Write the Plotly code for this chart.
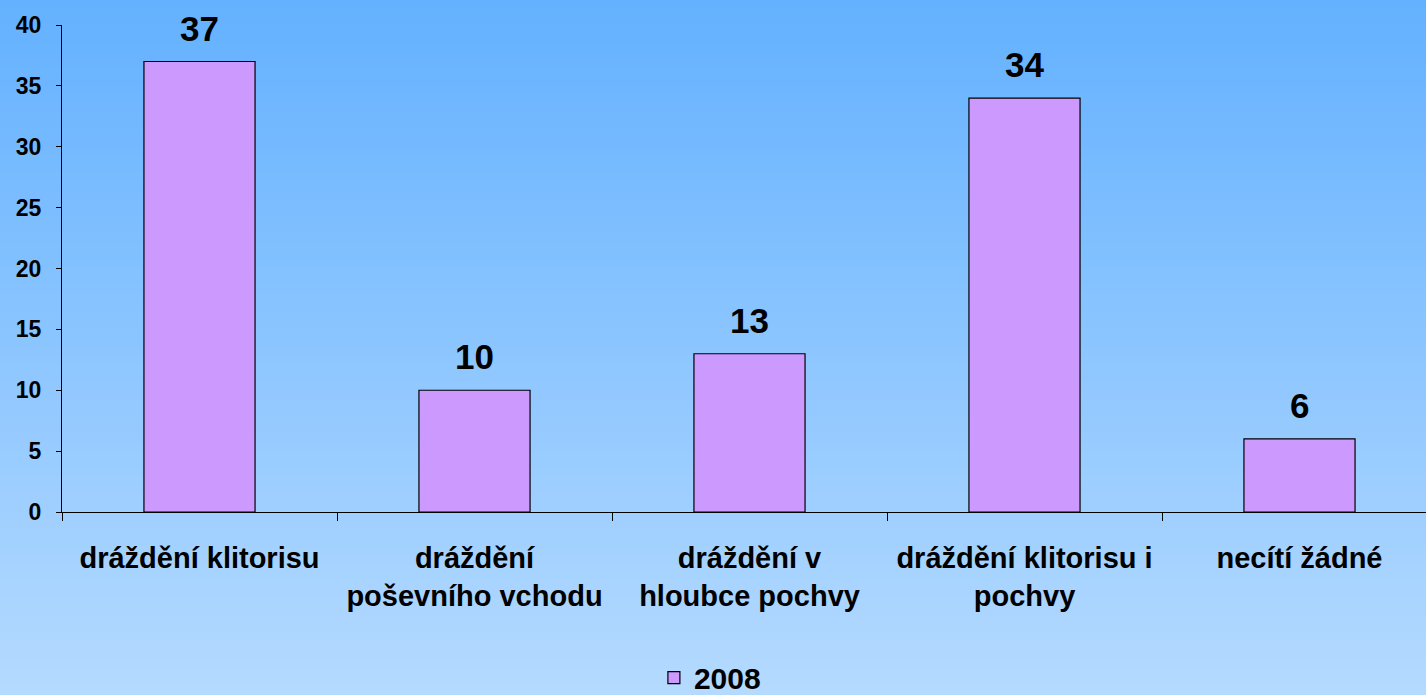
import plotly.graph_objects as go

categories = ["dráždění klitorisu", "dráždění<br>poševního vchodu", "dráždění v<br>hloubce pochvy",
              "dráždění klitorisu i<br>pochvy", "necítí žádné"]
values = [37, 10, 13, 34, 6]
series_name = "2008"
y_ticks = [0, 5, 10, 15, 20, 25, 30, 35, 40]

W, H = 1426, 695
ML, MR, MT, MB = 62, 0, 25, 183
FONT = "Liberation Sans, Arial, sans-serif"

fig = go.Figure()
fig.add_trace(go.Bar(
    x=categories, y=values, name=series_name, width=0.404,
    marker=dict(color="#CC99FF", line=dict(color="black", width=1.2)),
    showlegend=True,
))

for c, v in zip(categories, values):
    fig.add_annotation(x=c, y=v, text=str(v), showarrow=False, yanchor="bottom", yshift=12,
                       font=dict(family=FONT, size=35, color="black", weight="bold"))

# gradient background
ph = H - MT - MB
top_p = 1 + MT / ph
bot_p = -MB / ph
n = 80
c0 = (100, 177, 255)
c1 = (180, 218, 255)
for i in range(n):
    t = i / (n - 1)
    col = tuple(round(c0[k] + (c1[k] - c0[k]) * t) for k in range(3))
    y1 = top_p - (top_p - bot_p) * i / n + 0.003
    y0 = top_p - (top_p - bot_p) * (i + 1) / n - 0.003
    fig.add_shape(type="rect", xref="paper", yref="paper", x0=-0.1, x1=1.1, y0=y0, y1=y1,
                  fillcolor="rgb(%d,%d,%d)" % col, line=dict(width=0), layer="below")

fig.update_layout(
    width=W, height=H,
    margin=dict(l=ML, r=MR, t=MT, b=MB, pad=0, autoexpand=False),
    paper_bgcolor="rgb(140,198,255)",
    plot_bgcolor="rgba(0,0,0,0)",
    font=dict(family=FONT, color="black"),
    legend=dict(orientation="h", x=0.475, xanchor="center", y=-0.34, yanchor="middle",
                bgcolor="rgba(0,0,0,0)", font=dict(family=FONT, size=30, weight="bold")),
)
fig.update_xaxes(
    range=[-0.5, 4.46], showline=True, linecolor="black", linewidth=1.2,
    ticks="outside", tickson="boundaries", ticklen=8, tickcolor="black", tickwidth=1.2,
    tickfont=dict(family=FONT, size=29, weight="bold"), showgrid=False, zeroline=False,
    ticklabelstandoff=20, automargin=False,
)
fig.update_yaxes(
    range=[0, 40], tickvals=y_ticks, showline=True, linecolor="black", linewidth=1.2,
    ticks="outside", ticklen=5, tickcolor="black", tickwidth=1.2,
    tickfont=dict(family=FONT, size=23, weight="bold"), showgrid=False, zeroline=False,
    ticklabelstandoff=10, automargin=False,
)
fig.write_html("out.html", config={"displayModeBar": False},
               post_script="document.body.style.margin='0';document.body.style.overflow='hidden';")
